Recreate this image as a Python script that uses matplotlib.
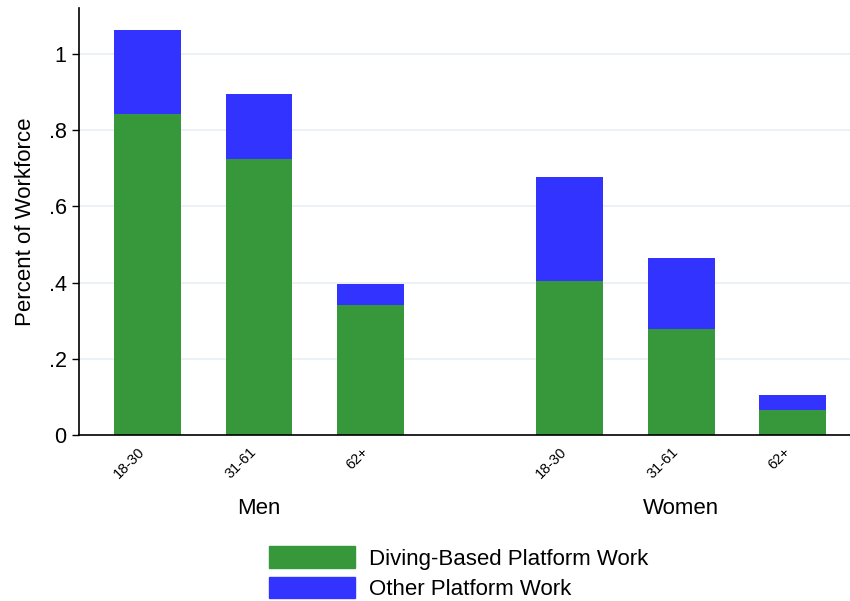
import matplotlib.pyplot as plt
import numpy as np
from matplotlib.patches import Patch
from matplotlib.transforms import ScaledTranslation

plt.rcParams['font.family'] = ['Liberation Sans', 'DejaVu Sans']

groups = ['Men', 'Women']
ages = ['18-30', '31-61', '62+']
diving = [0.842, 0.724, 0.340, 0.405, 0.279, 0.066]
other = [0.221, 0.171, 0.057, 0.271, 0.184, 0.039]
yticks = [0, 0.2, 0.4, 0.6, 0.8, 1.0]
ytick_labels = ['0', '.2', '.4', '.6', '.8', '1']

green = '#36983a'
blue = '#3333ff'

# bar positions: three per group, gap between groups
pos = np.array([0, 1, 2, 3.785, 4.785, 5.785])

fig = plt.figure(figsize=(8.5, 6.01), dpi=100)
ax = fig.add_axes([0.093, 0.276, 0.907, 0.711])

ax.bar(pos, diving, width=0.6, color=green, zorder=2)
ax.bar(pos, other, width=0.6, bottom=diving, color=blue, zorder=2)

ax.set_xlim(-0.614, 6.3)
ax.set_ylim(0, 1.12)
ax.set_yticks(yticks)
ax.set_yticklabels(ytick_labels, fontsize=15.5)
ax.yaxis.grid(True, color='#e8eff2', linewidth=1.2, zorder=0)
ax.tick_params(axis='y', length=5, width=1, pad=4)
ax.set_ylabel('Percent of Workforce', fontsize=16, labelpad=9)

ax.set_xticks(pos)
ax.set_xticklabels(ages * 2, rotation=45, ha='right', va='top',
                   rotation_mode='anchor', fontsize=10.5)
ax.tick_params(axis='x', length=0, pad=7)
shift = ScaledTranslation(-7 / 72, 0, fig.dpi_scale_trans)
for lab in ax.get_xticklabels():
    lab.set_transform(lab.get_transform() + shift)

for sp in ['top', 'right']:
    ax.spines[sp].set_visible(False)
ax.spines['left'].set_linewidth(1.2)
ax.spines['bottom'].set_linewidth(1.2)

ax.text(pos[1], -0.171, groups[0], transform=ax.get_xaxis_transform(),
        ha='center', va='center', fontsize=16)
ax.text(pos[4], -0.171, groups[1], transform=ax.get_xaxis_transform(),
        ha='center', va='center', fontsize=16)

handles = [Patch(color=green, label='Diving-Based Platform Work'),
           Patch(color=blue, label='Other Platform Work')]
fig.legend(handles=handles, loc='lower left', bbox_to_anchor=(268 / 850, 0.0),
           frameon=False, fontsize=16, handlelength=3.85, handleheight=1.1,
           labelspacing=0.32, handletextpad=0.65, borderpad=0.05,
           borderaxespad=0)

fig.savefig('out.png', dpi=100)
